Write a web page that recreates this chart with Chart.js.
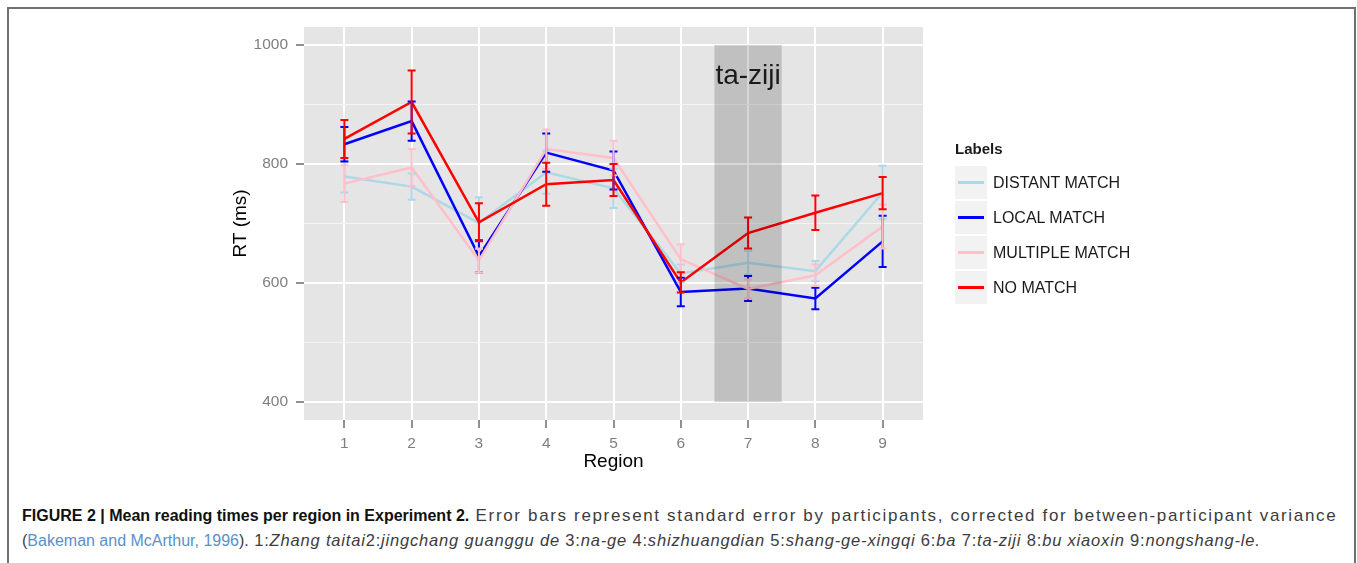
<!DOCTYPE html>
<html>
<head>
<meta charset="utf-8">
<script src="https://cdn.jsdelivr.net/npm/chart.js@4.4.0/dist/chart.umd.min.js"></script>
<style>
body{margin:0;background:#fff;width:1357px;height:563px;overflow:hidden;position:relative;font-family:"Liberation Sans",Arial,sans-serif}
#frame{position:absolute;left:7px;top:7px;width:1345px;height:620px;border:2px solid #707070}
#c{position:absolute;left:0;top:0}
#legend{position:absolute;left:955px;top:139px;color:#1a1a1a}
#legend .ttl{font-weight:bold;font-size:15px;height:26px;line-height:20px}
#legend .row{height:35px;display:flex;align-items:center}
#legend .key{width:32px;height:33px;background:#f2f2f2;position:relative;margin-right:6px}
#legend .key span{position:absolute;left:3px;right:3px;top:15px;height:2.5px}
#legend .lab{font-size:16px}
#caption{position:absolute;left:22px;top:503px;font-size:16px;color:#3c3c3c;white-space:nowrap;line-height:25px}
#caption b{color:#111}
#caption .reg1{font-size:17px;letter-spacing:1.65px}
#caption .reg2{font-size:16.5px;letter-spacing:0.82px}
#caption .ref{color:#5b8fc9}
</style>
</head>
<body>
<div id="frame"></div>
<canvas id="c" width="1357" height="480"></canvas>
<div id="legend"></div>
<div id="caption">
<div><b>FIGURE 2 | Mean reading times per region in Experiment 2.</b><span class="reg1"> Error bars represent standard error by participants, corrected for between-participant variance</span></div>
<div>(<span class="ref">Bakeman and McArthur, 1996</span>).<span class="reg2"> 1:<i>Zhang taitai</i>2:<i>jingchang guanggu de</i> 3:<i>na-ge</i> 4:<i>shizhuangdian</i> 5:<i>shang-ge-xingqi</i> 6:<i>ba</i> 7:<i>ta-ziji</i> 8:<i>bu xiaoxin</i> 9:<i>nongshang-le.</i></span></div>
</div>
<script>
// regiones y medias (ms)
const regiones = [1, 2, 3, 4, 5, 6, 7, 8, 9];
const yTicks = [400, 500, 600, 700, 800, 900, 1000];

const distant    = [779, 762, 701, 786, 759, 616, 634, 620, 752];
const distantErr = [27, 22, 43, 36, 33, 15, 20, 17, 45];
const local      = [833, 872, 645, 819, 789, 585, 591, 574, 670];
const localErr   = [29, 33, 27, 32, 32, 24, 21, 18, 43];
const multiple   = [767, 794, 638, 825, 810, 640, 590, 613, 695];
const multipleErr= [31, 31, 20, 33, 29, 25, 16, 18, 37];
const noMatch    = [842, 904, 702, 766, 773, 601, 684, 718, 751];
const noMatchErr = [32, 53, 32, 36, 27, 17, 26, 29, 27];

const etiquetas = ["DISTANT MATCH", "LOCAL MATCH", "MULTIPLE MATCH", "NO MATCH"];
const colores = ["#add8e6", "#0000ff", "#ffc0cb", "#ff0000"];

// zona sombreada "ta-ziji"
const zona = {x0: 6.5, x1: 7.5, y0: 400, y1: 1000, texto: "ta-ziji", tx: 7, ty: 948};

function serie(i, valores, errores){
  return {
    label: etiquetas[i],
    data: regiones.map((r, k) => ({x: r, y: valores[k]})),
    err: errores,
    borderColor: colores[i],
    backgroundColor: colores[i],
    borderWidth: 2.5,
    pointRadius: 0,
    tension: 0,
    order: 3 - i
  };
}

const fondoPanel = {
  id: 'fondoPanel',
  beforeDraw(chart){
    const a = chart.chartArea, c = chart.ctx;
    c.save();
    c.fillStyle = '#e5e5e5';
    c.fillRect(a.left, a.top, a.right - a.left, a.bottom - a.top);
    c.restore();
  }
};

const barrasError = {
  id: 'barrasError',
  afterDatasetsDraw(chart){
    const c = chart.ctx, xs = chart.scales.x, ys = chart.scales.y;
    c.save();
    chart.data.datasets.forEach(ds => {
      c.strokeStyle = ds.borderColor;
      c.lineWidth = 2;
      ds.data.forEach((p, k) => {
        const px = xs.getPixelForValue(p.x);
        const top = ys.getPixelForValue(p.y + ds.err[k]);
        const bot = ys.getPixelForValue(p.y - ds.err[k]);
        c.beginPath();
        c.moveTo(px, top); c.lineTo(px, bot);
        c.moveTo(px - 4, top); c.lineTo(px + 4, top);
        c.moveTo(px - 4, bot); c.lineTo(px + 4, bot);
        c.stroke();
      });
    });
    // sombreado encima de todo, como en ggplot
    const x0 = xs.getPixelForValue(zona.x0), x1 = xs.getPixelForValue(zona.x1);
    const y0 = ys.getPixelForValue(zona.y1), y1 = ys.getPixelForValue(zona.y0);
    c.fillStyle = 'rgba(0,0,0,0.16)';
    c.fillRect(x0, y0, x1 - x0, y1 - y0);
    c.fillStyle = '#1a1a1a';
    c.font = '28px "Liberation Sans", Arial, sans-serif';
    c.textAlign = 'center';
    c.textBaseline = 'middle';
    c.fillText(zona.texto, xs.getPixelForValue(zona.tx), ys.getPixelForValue(zona.ty));
    c.restore();
  }
};

new Chart(document.getElementById('c'), {
  type: 'line',
  data: {
    datasets: [
      serie(0, distant, distantErr),
      serie(1, local, localErr),
      serie(2, multiple, multipleErr),
      serie(3, noMatch, noMatchErr)
    ]
  },
  options: {
    responsive: false,
    animation: false,
    layout: {padding: {left: 225, right: 434, top: 27, bottom: 3}},
    plugins: {legend: {display: false}, tooltip: {enabled: false}},
    scales: {
      x: {
        type: 'linear',
        min: 0.4,
        max: 9.6,
        afterBuildTicks: s => { s.ticks = regiones.map(v => ({value: v})); },
        afterFit: s => { s.height = 57; },
        grid: {color: '#ffffff', lineWidth: 2, tickColor: '#6b6b6b', tickLength: 8, tickWidth: 1.5},
        border: {display: false},
        ticks: {color: '#7f7f7f', font: {size: 15.5, family: '"Liberation Sans", Arial'}, padding: 6, maxRotation: 0},
        title: {display: true, text: 'Region', color: '#000', font: {size: 19, family: '"Liberation Sans", Arial'}}
      },
      y: {
        type: 'linear',
        min: 370,
        max: 1030,
        afterBuildTicks: s => { s.ticks = yTicks.map(v => ({value: v})); },
        afterFit: s => { s.width = 79; },
        grid: {
          color: ctx => ctx.tick && ctx.tick.value % 200 === 0 ? '#ffffff' : '#f4f4f4',
          lineWidth: ctx => ctx.tick && ctx.tick.value % 200 === 0 ? 2 : 1,
          tickColor: ctx => ctx.tick && ctx.tick.value % 200 === 0 ? '#6b6b6b' : 'rgba(0,0,0,0)',
          tickLength: 8,
          tickWidth: 1.5
        },
        border: {display: false},
        ticks: {
          color: '#7f7f7f', font: {size: 15.5, family: '"Liberation Sans", Arial'}, padding: 8,
          callback: v => v % 200 === 0 ? v : ''
        },
        title: {display: true, text: 'RT (ms)', color: '#000', font: {size: 19, family: '"Liberation Sans", Arial'}}
      }
    }
  },
  plugins: [fondoPanel, barrasError]
});

// leyenda al estilo ggplot
const leg = document.getElementById('legend');
leg.innerHTML = '<div class="ttl">Labels</div>' + etiquetas.map((t, i) =>
  '<div class="row"><div class="key"><span style="background:' + colores[i] + '"></span></div><div class="lab">' + t + '</div></div>'
).join('');
</script>
</body>
</html>
